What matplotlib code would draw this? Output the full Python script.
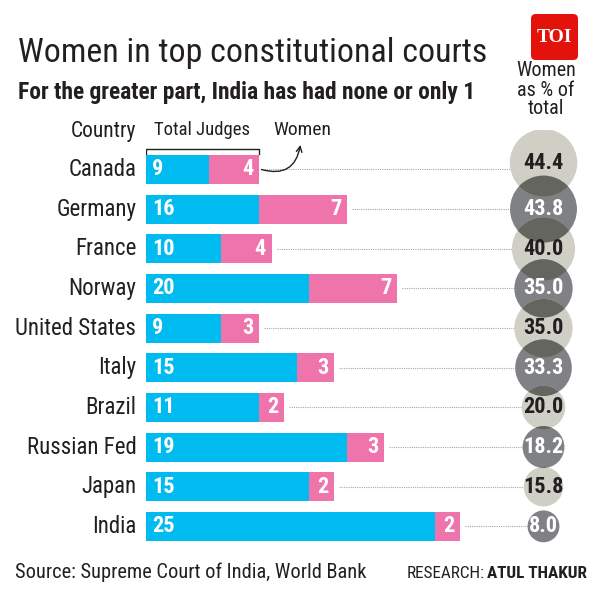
import matplotlib
matplotlib.use('Agg')
import matplotlib.pyplot as plt
from matplotlib import font_manager
from matplotlib.patches import Ellipse, FancyBboxPatch

countries = ['Canada', 'Germany', 'France', 'Norway', 'United States',
             'Italy', 'Brazil', 'Russian Fed', 'Japan', 'India']
total_judges = [9, 16, 10, 20, 9, 15, 11, 19, 15, 25]
women_judges = [4, 7, 4, 7, 3, 3, 2, 3, 2, 2]
women_pct = [44.4, 43.8, 40.0, 35.0, 35.0, 33.3, 20.0, 18.2, 15.8, 8.0]

BLUE = '#00bbf0'
PINK = '#f074ac'
LIGHT = '#d0cfc5'
DARK = '#808185'
OVERLAP = '#65655f'
INK = '#231f20'

# pick a narrow font if there is one
names = {f.name for f in font_manager.fontManager.ttflist}
NARROW = next((n for n in ['Roboto Condensed', 'Liberation Sans Narrow', 'Open Sans Condensed']
               if n in names), 'DejaVu Sans')

W, H, DPI = 600, 594, 100
fig = plt.figure(figsize=(W / DPI, H / DPI), dpi=DPI)

def fx(x): return x / W
def fy(y): return 1 - y / H

# bar axes: x in judges, y in rows
PX_PER_JUDGE = 12.55
ROW0, ROW_H = 169.5, 39.65
left_px, top_px, bottom_px = 146, 130, 560
ax = fig.add_axes([fx(left_px), fy(bottom_px), (W - left_px) / W, (bottom_px - top_px) / H])
ax.set_xlim(0, (W - left_px) / PX_PER_JUDGE)
ax.set_ylim((bottom_px - ROW0) / ROW_H, (top_px - ROW0) / ROW_H)
ax.axis('off')

rows = list(range(len(countries)))
men = [t - w for t, w in zip(total_judges, women_judges)]
ax.barh(rows, men, height=0.73, color=BLUE, zorder=2)
ax.barh(rows, women_judges, left=men, height=0.73, color=PINK, zorder=2)

cx = 543.5 / PX_PER_JUDGE - left_px / PX_PER_JUDGE
lab = dict(fontfamily=NARROW, fontweight='bold', fontsize=16, va='center', zorder=5)
for i in rows:
    ax.annotate(countries[i], (0, i), xytext=(-7, 0), textcoords='offset points',
                ha='right', va='center', fontsize=16.5, fontfamily=NARROW, color=INK)
    ax.annotate(str(total_judges[i]), (0, i), xytext=(4.5, 0), textcoords='offset points',
                ha='left', color='white', **lab)
    ax.annotate(str(women_judges[i]), (total_judges[i], i), xytext=(-4, 0),
                textcoords='offset points', ha='right', color='white', **lab)
    ax.plot([total_judges[i] + 0.4, cx], [i, i], ls=(0, (1, 1)), lw=0.8,
            color='#a8a8a8', zorder=1)

# circles, radius in pixels grows with the share
circles = []
for i in rows:
    r = 12 + 0.49 * women_pct[i]
    cy = i - (0.17 if i == 0 else 0)
    e = Ellipse((cx, cy), 2 * r / PX_PER_JUDGE, 2 * r / ROW_H,
                color=LIGHT if i % 2 == 0 else DARK, lw=0, zorder=3)
    ax.add_patch(e)
    circles.append((e, cy, r))
# darker lens where two neighbouring circles overlap
for i in rows[1:]:
    prev = circles[i - 1][0]
    e, cy, r = circles[i]
    lens = Ellipse((cx, cy), 2 * r / PX_PER_JUDGE, 2 * r / ROW_H, color=OVERLAP, lw=0, zorder=3.5)
    ax.add_patch(lens)
    lens.set_clip_path(prev)
for i in rows:
    ax.text(cx, circles[i][1], f'{women_pct[i]:.1f}', ha='center',
            color=INK if i % 2 == 0 else 'white', **lab)

# legend bits over the first bar
ax.plot([0, 0, total_judges[0], total_judges[0]], [-0.38, -0.52, -0.52, -0.38],
        color=INK, lw=1, zorder=2)
ax.annotate('', xy=(12.3, -0.62), xytext=(total_judges[0] + 0.2, 0.0),
            arrowprops=dict(arrowstyle='->', color=INK, lw=1,
                            connectionstyle='arc3,rad=0.55', shrinkA=0, shrinkB=0), zorder=6)

fig.text(fx(136), fy(132), 'Country', ha='right', va='center', fontsize=15.5,
         fontfamily=NARROW, color=INK)
fig.text(fx(202), fy(130), 'Total Judges', ha='center', va='center', fontsize=13.5,
         fontfamily=NARROW, color=INK)
fig.text(fx(302), fy(130), 'Women', ha='center', va='center', fontsize=14,
         fontfamily=NARROW, color=INK)
fig.text(fx(546), fy(90), 'Women\nas % of\ntotal', ha='center', va='center', fontsize=14.5,
         fontfamily=NARROW, color=INK, linespacing=1.0)


def fit(t, width):
    fig.canvas.draw()
    bb = t.get_window_extent()
    t.set_fontsize(t.get_fontsize() * width / bb.width)


title = fig.text(fx(18), fy(53), 'Women in top constitutional courts', ha='left', va='center',
                 fontsize=24, fontfamily=NARROW, color=INK)
fit(title, 469)
sub = fig.text(fx(18), fy(93), 'For the greater part, India has had none or only 1', ha='left',
               va='center', fontsize=15, fontfamily=NARROW, fontweight='bold', color=INK)
fit(sub, 458)
src = fig.text(fx(15), fy(572), 'Source: Supreme Court of India, World Bank', ha='left',
               va='center', fontsize=13, fontfamily=NARROW, color=INK)
fit(src, 350)
r1 = fig.text(fx(587), fy(573), 'ATUL THAKUR', ha='right', va='center', fontsize=12.3,
              fontfamily=NARROW, fontweight='bold', color=INK)
fig.canvas.draw()
bb = r1.get_window_extent()
fig.text(bb.x0 / W - 0.004, fy(573), 'RESEARCH:', ha='right', va='center', fontsize=12.3,
         fontfamily=NARROW, color=INK)

# TOI badge
badge = FancyBboxPatch((fx(531), fy(60)), 47 / W, 46 / H, boxstyle='round,pad=0,rounding_size=0.008',
                       transform=fig.transFigure, color='#e3120b', lw=0)
fig.patches.append(badge)
fig.text(fx(554.5), fy(37), 'TOI', ha='center', va='center', fontsize=14, fontweight='bold',
         fontfamily='Liberation Serif', color='white')

fig.savefig('out.png', dpi=DPI)
